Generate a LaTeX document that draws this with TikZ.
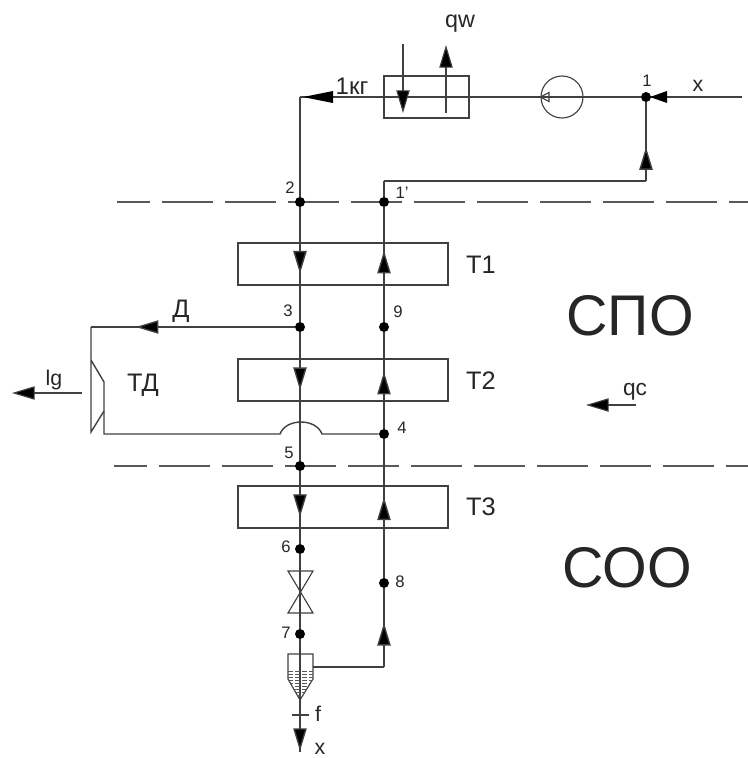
\documentclass[tikz,border=0pt]{standalone}
\usepackage{fontspec}
\setmainfont{Liberation Sans}
\usetikzlibrary{positioning, arrows.meta, calc, decorations.markings}
\tikzset{
	>={Triangle[length=17pt,width=10pt]},
	pipe/.style={draw=black!75, line width=1.05pt},
	thinline/.style={draw=black!75, line width=0.85pt},
	pnt/.style={circle, fill=black, inner sep=0pt, minimum size=7.5pt},
	unit/.style={rectangle, draw=black!75, line width=0.85pt, minimum width=157.5pt, minimum height=31.5pt, inner sep=0pt},
	num/.style={font=\fontsize{12.5}{15}\selectfont, text=black!85, inner sep=0pt},
	lbl/.style={font=\fontsize{16}{19}\selectfont, text=black!85, inner sep=0pt},
	mid/.style={font=\fontsize{19}{23}\selectfont, text=black!85, inner sep=0pt},
	big/.style={font=\fontsize{43}{50}\selectfont, text=black!85, inner sep=0pt},
	boundary/.style={draw=black!65, line width=1pt, dash pattern=on 38.25pt off 9pt, dash phase=13.5pt},
	tipat/.style={postaction={decorate, decoration={markings, mark=at position #1 with {\arrow{>}}}}}
}
\begin{document}
\begin{tikzpicture}[x=0.75pt, y=-0.75pt, on grid]
	\useasboundingbox (0,0) rectangle (748,758);

	% boundaries
	\draw[boundary] (117,202) -- (748,202);
	\draw[boundary] (114,466) -- (748,466);

	% state points
	\node[pnt] at (300,202) (p2) {};
	\node[pnt, right=63pt of p2] (p1s) {};
	\node[pnt, below=93.75pt of p2] (p3) {};
	\node[pnt, right=63pt of p3] (p9) {};
	\node[pnt] at (384,434) (p4) {};
	\node[pnt] at (300,466) (p5) {};
	\node[pnt] at (300,549) (p6) {};
	\node[pnt] at (300,634) (p7) {};
	\node[pnt] at (384,583) (p8) {};
	\node[pnt] at (646,97) (p1) {};

	% apparatus
	\node[unit] at (343,264) (t1) {};
	\node[unit, below=87pt of t1] (t2) {};
	\node[unit] at (343,507) (t3) {};
	\node[unit, minimum width=63.75pt] at (426.5,97) (cond) {};
	\node[circle, thinline, draw, minimum size=31.5pt, inner sep=0pt] at (562,97) (pump) {};
	\draw[thinline] (pump.west) -- (549,92.5) -- (549,101.5) -- cycle;

	% free ends and corners
	\coordinate (inx) at (742,97);
	\coordinate (c2) at (300,97);
	\coordinate (c1a) at (384,181);
	\coordinate (c1b) at (646,181);
	\coordinate (cd) at (91,327);
	\coordinate (tdtop) at (91,360);
	\coordinate (tdin) at (104,382);
	\coordinate (tdout) at (104,411);
	\coordinate (tdbot) at (91,432);
	\coordinate (ce) at (104,434);
	\coordinate (bumpl) at (280,434);
	\coordinate (bumpr) at (322,434);
	\coordinate (sepl) at (288,654);
	\coordinate (sepr) at (313,654);
	\coordinate (sepa) at (300,700);
	\coordinate (sepo) at (313,667);
	\coordinate (c8) at (384,667);
	\coordinate (fend) at (300,752);

	% main lines
	\path[pipe]
	(inx) edge (p1)
	(p1) edge (c2)
	(c2) edge (p2)
	(p2) edge[tipat=0.58] (p3)
	(p3) edge[tipat=0.45] (p5)
	(p5) edge[tipat=0.63] (p6)
	(p6) edge (p7)
	(p7) edge (sepa)
	(sepa) edge[tipat=0.98] (fend)
	(sepo) edge (c8)
	(c8) edge[tipat=0.56] (p8)
	(p8) edge[tipat=0.58] (p4)
	(p4) edge[tipat=0.59] (p9)
	(p9) edge[tipat=0.62] (p1s)
	(p1s) edge (c1a)
	(c1a) edge (c1b)
	(c1b) edge[tipat=0.43] (p1);
	\fill[black] (650,97) -- (667,91) -- (667,103) -- cycle;
	\fill[black] (303,97) -- (333,91) -- (333,103) -- cycle;

	% turbine
	\path[pipe] (p3) edge[tipat=0.78] (cd);
	\draw[pipe] (cd) -- (tdtop) -- (tdin) -- (tdout) -- (tdbot) -- cycle;
	\draw[pipe] (tdout) -- (ce) -- (bumpl) .. controls (286,418) and (316,418) .. (bumpr) -- (p4);

	% valve and separator
	\draw[thinline] (288,571) -- (313,571) -- (288,613) -- (313,613) -- cycle;
	\draw[thinline] (sepl) -- (288,679) -- (sepa) -- (313,679) -- (sepr) -- cycle;
	\begin{scope}
		\clip (288,668) -- (288,679) -- (sepa) -- (313,679) -- (313,668) -- cycle;
		\foreach \yy in {671,674,677,680,683,686,689,692,695}{
			\draw[black!65, line width=0.7pt, dash pattern=on 4pt off 1.2pt] (288,\yy) -- (313,\yy);
		}
	\end{scope}
	\draw[thinline] (292,715) -- (309,715);

	% side arrows
	\coordinate (wa) at (403,44);
	\coordinate (wb) at (403,113);
	\coordinate (wc) at (446,113);
	\coordinate (wd) at (446,45);
	\coordinate (lga) at (82,393);
	\coordinate (lgb) at (12,393);
	\coordinate (qca) at (636,405);
	\coordinate (qcb) at (586,405);
	\path[thinline]
	(wa) edge[->] (wb)
	(wc) edge[->] (wd)
	(lga) edge[->] (lgb)
	(qca) edge[->] (qcb);

	% labels
	\node[num] at (647,81) (l1) {1};
	\node[num] at (402,193) (l1s) {1'};
	\node[num] at (290,188) (l2) {2};
	\node[num] at (288,311) (l3) {3};
	\node[num] at (398,312) (l9) {9};
	\node[num] at (402,428) (l4) {4};
	\node[num] at (289,453) (l5) {5};
	\node[num] at (286,547) (l6) {6};
	\node[num] at (286,633) (l7) {7};
	\node[num] at (400,582) (l8) {8};
	\node[lbl, font=\fontsize{18}{22}\selectfont] at (352,86) (lkg) {1кг};
	\node[lbl, font=\fontsize{17.5}{21}\selectfont] at (460,24) (lqw) {qw};
	\node[lbl] at (698,86) (lx) {x};
	\node[mid] at (181,311) (ld) {Д};
	\node[lbl] at (54,380) (llg) {lg};
	\node[lbl, font=\fontsize{17}{21}\selectfont] at (635,392) (lqc) {qc};
	\node[lbl] at (318,714) (lf) {f};
	\node[lbl] at (320,749) (lxb) {x};
	\node[mid] at (143,385) (ltd) {ТД};
	\node[mid] at (481,265) (lt1) {T1};
	\node[mid] at (481,381) (lt2) {T2};
	\node[mid] at (481,507) (lt3) {T3};
	\node[big] at (630,316) (lspo) {СПО};
	\node[big] at (627,568) (lsoo) {СОО};
\end{tikzpicture}
\end{document}
